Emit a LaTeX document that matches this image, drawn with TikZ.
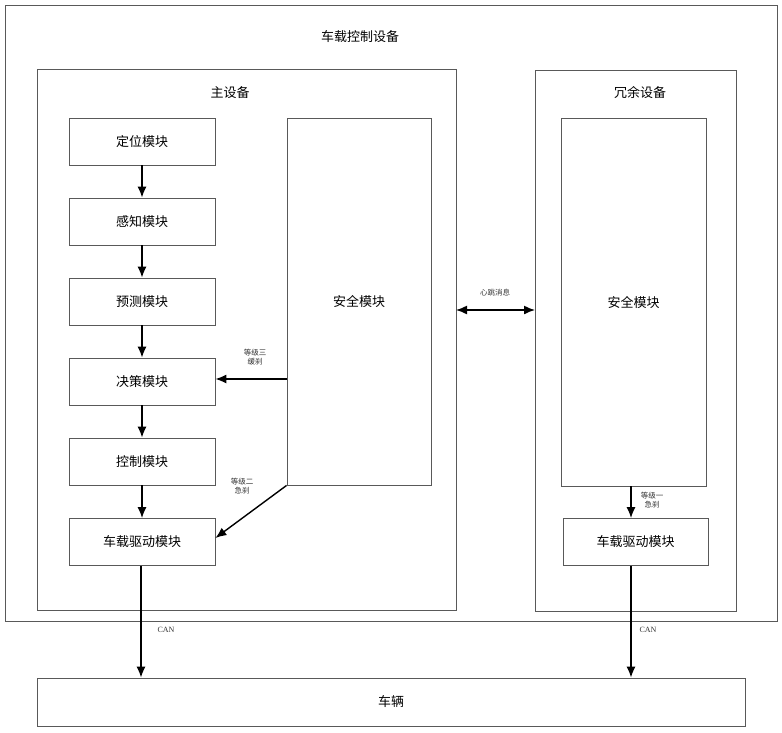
\documentclass[tikz,border=0pt]{standalone}
\usepackage{fontspec}
\setmainfont{Noto Sans CJK SC}
\newfontfamily\serifen{Liberation Serif}
\usetikzlibrary{arrows.meta}
\begin{document}
\begin{tikzpicture}[x=1pt,y=-1pt,
  box/.style={draw=black!65,line width=0.8pt},
  mod/.style={box,minimum width=146pt,minimum height=47pt,font=\fontsize{13}{15}\selectfont},
  arr/.style={-{Latex[length=11pt,width=9pt]},line width=1.4pt},
  darr/.style={{Latex[length=11pt,width=9pt]}-{Latex[length=11pt,width=9pt]},line width=1.4pt},
  lab/.style={font=\fontsize{7.5}{9.5}\selectfont,align=center,text=black!80},
  ttl/.style={font=\fontsize{13}{15}\selectfont}]
\useasboundingbox (0,0) rectangle (782,732);
% outer
\draw[box] (5,5) rectangle (777,621);
\node[ttl] (title) at (360,37) {车载控制设备};
% main device
\draw[box] (37,69) rectangle (456,610);
\node[ttl] (maint) at (230,93) {主设备};
% redundant
\draw[box] (535,70) rectangle (736,611);
\node[ttl] (redt) at (640,93) {冗余设备};
% left modules
\node[mod] (loc) at (142,141.5) {定位模块};
\node[mod] (per) at (142,221.5) {感知模块};
\node[mod] (pre) at (142,301.5) {预测模块};
\node[mod] (dec) at (142,381.5) {决策模块};
\node[mod] (ctl) at (142,461.5) {控制模块};
\node[mod] (drv) at (142,542) {车载驱动模块};
% safety modules
\node[box,minimum width=144pt,minimum height=367pt,font=\fontsize{13}{15}\selectfont] (safe) at (359,301.5) {安全模块};
\node[box,minimum width=145pt,minimum height=368pt,font=\fontsize{13}{15}\selectfont] (rsafe) at (633.5,302) {安全模块};
\node[mod,minimum width=145pt] (rdrv) at (635.5,542) {车载驱动模块};
% vehicle
\node[box,minimum width=708pt,minimum height=48pt,font=\fontsize{13}{15}\selectfont] (veh) at (391,702) {车辆};
% chain arrows
\draw[arr] (loc) -- (per);
\draw[arr] (per) -- (pre);
\draw[arr] (pre) -- (dec);
\draw[arr] (dec) -- (ctl);
\draw[arr] (ctl) -- (drv);
% safety -> decision
\draw[arr] (safe.west |- 0,379) -- (dec.east |- 0,379);
\node[lab] (l3) at (255,357) {等级三\\缓刹};
% safety -> drive
\draw[arr] (safe.south west) -- (drv.east |- 0,538);
\node[lab] (l2) at (242,486) {等级二\\急刹};
% heartbeat
\coordinate (hbl) at (456,310);
\coordinate (hbr) at (535,310);
\draw[darr] (hbl) -- (hbr);
\node[lab] (hb) at (495,293) {心跳消息};
% redundant level 1
\draw[arr] (rsafe.south -| 631,0) -- (rdrv.north -| 631,0);
\node[lab] (l1) at (652,500) {等级一\\急刹};
% CAN
\draw[arr] (drv.south -| 141,0) -- (veh.north -| 141,0);
\node[lab,font=\fontsize{8}{10}\selectfont\serifen] (can1) at (166,630) {CAN};
\draw[arr] (rdrv.south -| 631,0) -- (veh.north -| 631,0);
\node[lab,font=\fontsize{8}{10}\selectfont\serifen] (can2) at (648,630) {CAN};
\end{tikzpicture}
\end{document}
